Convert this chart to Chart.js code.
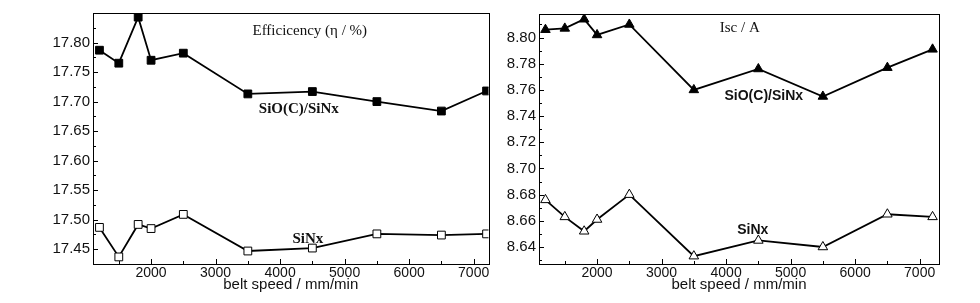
<!DOCTYPE html>
<html>
<head>
<meta charset="utf-8">
<script src="https://cdn.jsdelivr.net/npm/chart.js@4.4.1/dist/chart.umd.min.js"></script>
<style>
  body { margin: 0; background: #fff; }
  #wrap { position: relative; width: 980px; height: 303px; }
  .box { position: absolute; top: 0; height: 303px; }
</style>
</head>
<body>
<div id="wrap">
  <div class="box" style="left:0; width:495px;"><canvas id="graficoEficiencia"></canvas></div>
  <div class="box" style="left:495px; width:485px;"><canvas id="graficoIsc"></canvas></div>
</div>
<script>
// datos
const beltSpeed = [1200, 1500, 1800, 2000, 2500, 3500, 4500, 5500, 6500, 7200];

const effSiOC = [17.787, 17.765, 17.843, 17.770, 17.782, 17.713, 17.717, 17.700, 17.684, 17.718];
const effSiNx = [17.487, 17.437, 17.492, 17.485, 17.509, 17.447, 17.452, 17.476, 17.474, 17.476];

const iscSiOC = [8.806, 8.807, 8.814, 8.802, 8.810, 8.760, 8.776, 8.755, 8.777, 8.791];
const iscSiNx = [8.676, 8.663, 8.652, 8.661, 8.680, 8.633, 8.645, 8.640, 8.665, 8.663];

// etiquetas de los ejes
const xTicks = [2000, 3000, 4000, 5000, 6000, 7000];
const effTicks = [17.45, 17.50, 17.55, 17.60, 17.65, 17.70, 17.75, 17.80];
const iscTicks = [8.64, 8.66, 8.68, 8.70, 8.72, 8.74, 8.76, 8.78, 8.80];

// textos dentro del grafico (x, y en valores de datos)
const effNotes = [
    {text: 'Efficicency (\u03B7 / %)', x: 4460, y: 17.819, font: '15px "Liberation Serif"'},
    {text: 'SiO(C)/SiNx', x: 4290, y: 17.687, font: 'bold 15px "Liberation Serif"'},
    {text: 'SiNx', x: 4430, y: 17.467, font: 'bold 15px "Liberation Serif"'}
];
const iscNotes = [
    {text: 'Isc / A', x: 4212, y: 8.807, font: '15px "Liberation Serif"'},
    {text: 'SiO(C)/SiNx', x: 4584, y: 8.755, font: 'bold 14px "Liberation Sans"'},
    {text: 'SiNx', x: 4414, y: 8.653, font: 'bold 14px "Liberation Sans"'}
];

// marco, ticks hacia adentro y textos
const framePlugin = {
    id: 'frame',
    afterDraw(chart, args, opts) {
        const {ctx, chartArea: a, scales: {x, y}} = chart;
        ctx.save();
        ctx.strokeStyle = '#000';
        ctx.lineWidth = 1;
        ctx.strokeRect(Math.round(a.left) + 0.5, Math.round(a.top) + 0.5,
            Math.round(a.right - a.left), Math.round(a.bottom - a.top));

        ctx.beginPath();
        const xStep = opts.xTicks[1] - opts.xTicks[0];
        const xs = [opts.xTicks[0] - xStep].concat(opts.xTicks);
        xs.forEach(v => {
            [[v, 5], [v + xStep / 2, 3]].forEach(([val, len]) => {
                if (val < x.min || val > x.max || val === xs[0]) return;
                const px = Math.round(x.getPixelForValue(val)) + 0.5;
                ctx.moveTo(px, a.bottom);
                ctx.lineTo(px, a.bottom - len);
            });
        });
        const yStep = opts.yTicks[1] - opts.yTicks[0];
        const ys = [opts.yTicks[0] - yStep].concat(opts.yTicks);
        ys.forEach(v => {
            [[v, 5], [v + yStep / 2, 3]].forEach(([val, len]) => {
                if (val < y.min || val > y.max || val === ys[0]) return;
                const py = Math.round(y.getPixelForValue(val)) + 0.5;
                ctx.moveTo(a.left, py);
                ctx.lineTo(a.left + len, py);
            });
        });
        ctx.stroke();

        ctx.fillStyle = '#111';
        ctx.textAlign = 'center';
        ctx.textBaseline = 'middle';
        opts.notes.forEach(n => {
            ctx.font = n.font;
            ctx.fillText(n.text, x.getPixelForValue(n.x), y.getPixelForValue(n.y));
        });
        ctx.restore();
    }
};

// función para crear graficos
function createLineChart(canvasId, cfg) {
    const ctx = document.getElementById(canvasId).getContext('2d');
    new Chart(ctx, {
        type: 'line',
        data: {
            datasets: [
                {
                    data: beltSpeed.map((v, i) => ({x: v, y: cfg.top[i]})),
                    borderColor: '#000',
                    borderWidth: 1.8,
                    pointStyle: cfg.style,
                    pointRadius: 5.5,
                    pointBackgroundColor: '#000',
                    pointBorderColor: '#000',
                    pointBorderWidth: 1
                },
                {
                    data: beltSpeed.map((v, i) => ({x: v, y: cfg.bottom[i]})),
                    borderColor: '#000',
                    borderWidth: 1.8,
                    pointStyle: cfg.style,
                    pointRadius: 5.5,
                    pointBackgroundColor: '#fff',
                    pointBorderColor: '#000',
                    pointBorderWidth: 1
                }
            ]
        },
        options: {
            responsive: true,
            maintainAspectRatio: false,
            animation: false,
            layout: {padding: cfg.padding},
            plugins: {
                legend: {display: false},
                tooltip: {enabled: false},
                frame: {xTicks: xTicks, yTicks: cfg.yTicks, notes: cfg.notes}
            },
            scales: {
                x: {
                    type: 'linear',
                    min: cfg.xMin,
                    max: cfg.xMax,
                    afterBuildTicks: s => { s.ticks = xTicks.map(v => ({value: v})); },
                    afterFit: s => { s.height = 39; },
                    grid: {display: false, drawTicks: false},
                    border: {display: false},
                    ticks: {
                        padding: 1,
                        color: '#111',
                        font: {family: 'Liberation Sans', size: 14},
                        callback: v => String(v)
                    },
                    title: {
                        display: true,
                        text: 'belt speed / mm/min',
                        color: '#111',
                        font: {family: 'Liberation Sans', size: 15},
                        padding: {top: 0, bottom: 9}
                    }
                },
                y: {
                    min: cfg.yMin,
                    max: cfg.yMax,
                    afterBuildTicks: s => { s.ticks = cfg.yTicks.map(v => ({value: v})); },
                    afterFit: s => { s.width = cfg.yWidth; },
                    grid: {display: false, drawTicks: false},
                    border: {display: false},
                    ticks: {
                        padding: 3,
                        color: '#111',
                        font: {family: 'Liberation Sans', size: 15},
                        callback: v => v.toFixed(2)
                    }
                }
            }
        },
        plugins: [framePlugin]
    });
}

createLineChart('graficoEficiencia', {
    top: effSiOC, bottom: effSiNx, style: 'rect',
    xMin: 1100, xMax: 7230, yMin: 17.425, yMax: 17.85,
    yTicks: effTicks, notes: effNotes, yWidth: 93,
    padding: {left: 0, right: 4, top: 13, bottom: 0}
});

createLineChart('graficoIsc', {
    top: iscSiOC, bottom: iscSiNx, style: 'triangle',
    xMin: 1100, xMax: 7300, yMin: 8.627, yMax: 8.818,
    yTicks: iscTicks, notes: iscNotes, yWidth: 44,
    padding: {left: 0, right: 41, top: 14, bottom: 0}
});
</script>
</body>
</html>
